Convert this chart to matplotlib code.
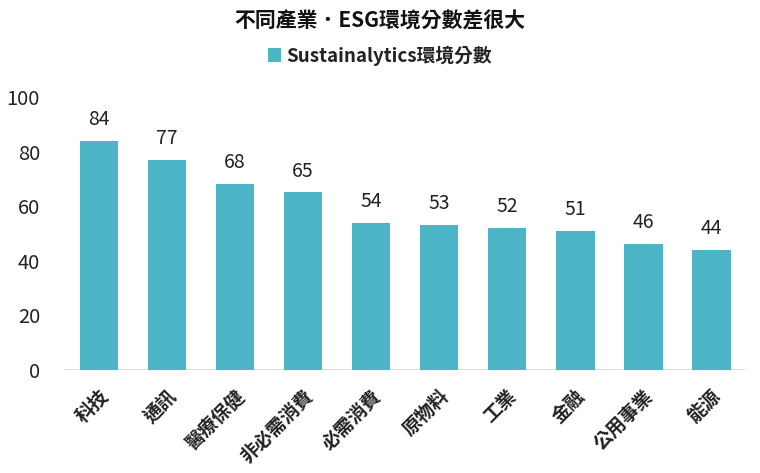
import matplotlib
matplotlib.use("Agg")
import matplotlib.pyplot as plt

plt.rcParams['font.family'] = ['Noto Sans CJK TC', 'DejaVu Sans']

sectors = ['科技', '通訊', '醫療保健', '非必需消費', '必需消費', '原物料', '工業', '金融', '公用事業', '能源']
scores = [84, 77, 68, 65, 54, 53, 52, 51, 46, 44]
yticks = [0, 20, 40, 60, 80, 100]

bar_color = '#4BB4C5'

fig = plt.figure(figsize=(7.6, 4.73), dpi=100)
ax = fig.add_axes([0.0855, 0.218, 0.895, 0.577])

x = range(len(sectors))
bars = ax.bar(x, scores, width=0.57, color=bar_color, label='Sustainalytics環境分數', zorder=2)

for rect, v in zip(bars, scores):
    ax.text(rect.get_x() + rect.get_width() / 2, v + 4, str(v), ha='center', va='bottom',
            fontsize=14, color='#222222', clip_on=False)

ax.set_xlim(-0.5, len(sectors) - 0.5)
ax.set_ylim(0, 100)
ax.set_yticks(yticks)
ax.set_yticklabels([str(t) for t in yticks], fontsize=14.5, color='#222222')
ax.set_xticks(list(x))
ax.set_xticklabels(sectors, rotation=45, ha='right', rotation_mode='anchor',
                   fontsize=13.5, fontweight='bold', color='#222222')
ax.tick_params(axis='both', length=0)
ax.tick_params(axis='y', pad=18)
ax.tick_params(axis='x', pad=12)
for s in ax.spines.values():
    s.set_visible(False)
ax.axhline(0, color='#D9D9D9', linewidth=1.2, zorder=1)

fig.text(0.5, 0.955, '不同產業．ESG環境分數差很大', ha='center', va='center',
         fontsize=15, fontweight='bold', color='#111111')
leg = fig.legend(loc='center', bbox_to_anchor=(0.5, 0.883), frameon=False, fontsize=13.5,
                 handlelength=0.7, handleheight=0.7, handletextpad=0.3)
for t in leg.get_texts():
    t.set_fontweight('bold')
    t.set_color('#222222')

fig.savefig('out.png', dpi=100)
